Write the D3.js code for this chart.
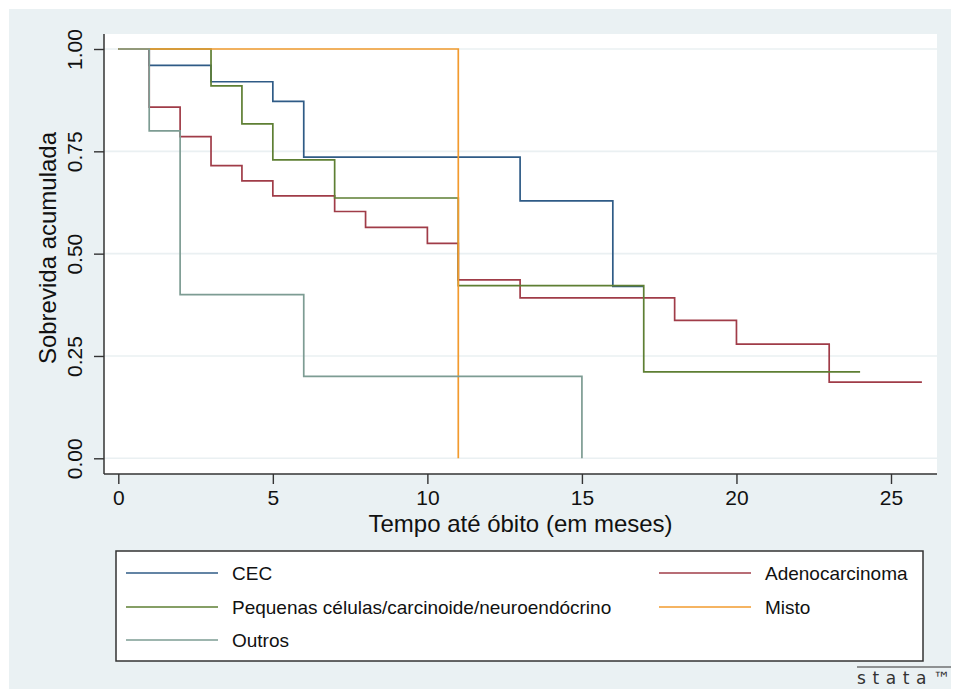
<!DOCTYPE html>
<html>
<head>
<meta charset="utf-8">
<script src="https://cdn.jsdelivr.net/npm/d3@7"></script>
<style>
  body { margin: 0; background: #fff; }
  svg text { font-family: "Liberation Sans", Arial, sans-serif; fill: #111; }
</style>
</head>
<body>
<div id="chart"></div>
<script>
// Kaplan-Meier steps (time in months, cumulative survival)
const groups = ['CEC', 'Adenocarcinoma', 'Pequenas células/carcinoide/neuroendócrino', 'Misto', 'Outros'];
const colors = ['#2f5b86', '#a03c48', '#5e7f33', '#f29b2e', '#7d9c93'];

const cecTime = [0, 1, 3, 5, 6, 13, 16, 17];
const cecSurv = [1, 0.96, 0.92, 0.872, 0.736, 0.629, 0.42, 0.42];

const adenoTime = [0, 1, 2, 3, 4, 5, 7, 8, 10, 11, 13, 18, 20, 23, 26];
const adenoSurv = [1, 0.858, 0.786, 0.715, 0.678, 0.641, 0.603, 0.564, 0.525, 0.436, 0.392, 0.337, 0.279, 0.186, 0.186];

const pequenasTime = [0, 3, 4, 5, 7, 11, 17, 24];
const pequenasSurv = [1, 0.91, 0.817, 0.729, 0.636, 0.422, 0.211, 0.211];

const mistoTime = [0, 11];
const mistoSurv = [1, 0];

const outrosTime = [0, 1, 2, 6, 15];
const outrosSurv = [1, 0.8, 0.4, 0.2, 0];

const xTicks = [0, 5, 10, 15, 20, 25];
const yTicks = [0, 0.25, 0.5, 0.75, 1];

const series = [
  [cecTime, cecSurv],
  [adenoTime, adenoSurv],
  [pequenasTime, pequenasSurv],
  [mistoTime, mistoSurv],
  [outrosTime, outrosSurv],
].map(([t, s], i) => ({
  name: groups[i],
  color: colors[i],
  values: t.map((d, j) => ({ t: d, s: s[j] })),
}));

const W = 954, H = 690;
// plot region (white) bounds
const plot = { left: 104, right: 937, top: 34, bottom: 474 };

const svg = d3.select('#chart').append('svg')
  .attr('width', W)
  .attr('height', H);

// outer graph region
svg.append('rect')
  .attr('x', 9).attr('y', 9)
  .attr('width', 942).attr('height', 680)
  .attr('fill', '#eaf1f3');

svg.append('rect')
  .attr('x', plot.left).attr('y', plot.top)
  .attr('width', plot.right - plot.left)
  .attr('height', plot.bottom - plot.top)
  .attr('fill', '#fff');

const x = d3.scaleLinear().domain([0, 25]).range([118.3, 891]);
const y = d3.scaleLinear().domain([0, 1]).range([458.3, 49]);

// gridlines
svg.append('g')
  .selectAll('line')
  .data(yTicks)
  .join('line')
  .attr('x1', plot.left).attr('x2', plot.right)
  .attr('y1', (d) => y(d)).attr('y2', (d) => y(d))
  .attr('stroke', '#eaf0f2')
  .attr('stroke-width', 1.6);

// curves
const line = d3.line()
  .x((d) => x(d.t))
  .y((d) => y(d.s))
  .curve(d3.curveStepAfter);

svg.append('g')
  .selectAll('path')
  .data(series)
  .join('path')
  .attr('d', (d) => line(d.values))
  .attr('fill', 'none')
  .attr('stroke', (d) => d.color)
  .attr('stroke-width', 1.7);

// axes
const yAxis = svg.append('g')
  .attr('transform', `translate(${plot.left},0)`)
  .call(d3.axisLeft(y).tickValues(yTicks).tickFormat(d3.format('.2f')).tickSize(10).tickSizeOuter(0));
yAxis.select('.domain').remove();
yAxis.selectAll('.tick line').attr('stroke', '#333').attr('stroke-width', 1.4);
yAxis.selectAll('.tick text')
  .attr('x', 0).attr('y', -22).attr('dy', 0)
  .attr('transform', 'rotate(-90)')
  .style('text-anchor', 'middle')
  .style('font-size', '21px');

const xAxis = svg.append('g')
  .attr('transform', `translate(0,${plot.bottom})`)
  .call(d3.axisBottom(x).tickValues(xTicks).tickSize(10).tickSizeOuter(0));
xAxis.select('.domain').remove();
xAxis.selectAll('.tick line').attr('stroke', '#333').attr('stroke-width', 1.4);
xAxis.selectAll('.tick text')
  .attr('y', 31).attr('dy', 0)
  .style('font-size', '21px');

svg.append('line')
  .attr('x1', plot.left).attr('x2', plot.left)
  .attr('y1', plot.top).attr('y2', plot.bottom)
  .attr('stroke', '#333').attr('stroke-width', 1.5);
svg.append('line')
  .attr('x1', plot.left).attr('x2', plot.right)
  .attr('y1', plot.bottom).attr('y2', plot.bottom)
  .attr('stroke', '#333').attr('stroke-width', 1.5);

// axis titles
svg.append('text')
  .attr('transform', 'translate(56,248) rotate(-90)')
  .style('text-anchor', 'middle')
  .style('font-size', '24px')
  .text('Sobrevida acumulada');

svg.append('text')
  .attr('x', (plot.left + plot.right) / 2)
  .attr('y', 532)
  .style('text-anchor', 'middle')
  .style('font-size', '24px')
  .text('Tempo até óbito (em meses)');

// legend
const legend = svg.append('g');
legend.append('rect')
  .attr('x', 116).attr('y', 551)
  .attr('width', 807).attr('height', 110)
  .attr('fill', '#fff')
  .attr('stroke', '#333')
  .attr('stroke-width', 1.5);

const colX = [126, 659];
const rowY = [573, 607, 640];
const items = legend.selectAll('g.item')
  .data(series)
  .join('g')
  .attr('class', 'item')
  .attr('transform', (d, i) => `translate(${colX[i % 2]},${rowY[Math.floor(i / 2)]})`);

items.append('line')
  .attr('x1', 0).attr('x2', 92)
  .attr('stroke', (d) => d.color)
  .attr('stroke-width', 1.4);

items.append('text')
  .attr('x', 106)
  .attr('y', 7)
  .style('font-size', '19px')
  .text((d) => d.name);

// stata mark
svg.append('line')
  .attr('x1', 857).attr('x2', 951)
  .attr('y1', 667).attr('y2', 667)
  .attr('stroke', '#333').attr('stroke-width', 1.2);
svg.append('text')
  .attr('x', 857).attr('y', 684)
  .attr('textLength', 93)
  .attr('lengthAdjust', 'spacing')
  .style('font-size', '17px')
  .style('font-family', '"DejaVu Sans", sans-serif')
  .style('fill', '#333')
  .text('stata™');
</script>
</body>
</html>
